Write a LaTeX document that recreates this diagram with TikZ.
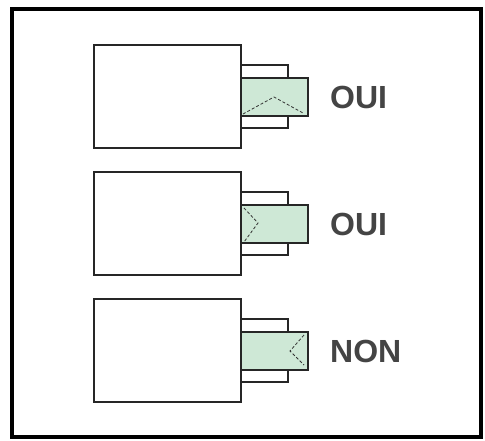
\documentclass[tikz,border=0pt]{standalone}
\usepackage{fontspec}
\setmainfont{Liberation Sans}
\usetikzlibrary{calc}
\definecolor{paleGreen}{RGB}{206,232,214}
\definecolor{txtGray}{RGB}{68,68,68}
\begin{document}
\begin{tikzpicture}[x=1pt,y=-1pt,
  bigbox/.style={draw=black!85,line width=1.5pt,fill=white,minimum width=147pt,minimum height=103pt,inner sep=0pt,outer sep=0pt},
  tabbox/.style={draw=black!85,line width=1.4pt,fill=white,minimum width=47pt,minimum height=63pt,inner sep=0pt,outer sep=0pt},
  greenbox/.style={draw=black!85,line width=1.4pt,fill=paleGreen,minimum width=67pt,minimum height=38pt,inner sep=0pt,outer sep=0pt},
  fold/.style={black!80,dash pattern=on 3pt off 2pt,line width=0.8pt},
  answer/.style={font=\bfseries\fontsize{32}{36}\selectfont,text=txtGray,anchor=west,inner sep=0pt}]
\useasboundingbox (0,0) rectangle (485,440);
\draw[line width=3.2pt] (12,9) rectangle (481,437);
% row 1
\node[tabbox] (t1) at (264.5,96.5) {};
\node[greenbox] (g1) at (274.5,97) {};
\node[bigbox,fill=none] (b1) at (167.5,96.5) {};
\draw[fold] ($(g1.south west)+(2,-2)$) -- ($(g1.north west)+(33,19)$) -- ($(g1.south east)+(-5,-3)$);
\node[answer] (l1) at (330,97) {OUI};
% row 2
\node[tabbox] (t2) at (264.5,223.5) {};
\node[greenbox] (g2) at (274.5,224) {};
\node[bigbox,fill=none] (b2) at (167.5,223.5) {};
\draw[fold] ($(g2.north west)+(3,3)$) -- ($(g2.west)+(17,-1)$) -- ($(g2.south west)+(3,-1)$);
\node[answer] (l2) at (330,224) {OUI};
% row 3
\node[tabbox] (t3) at (264.5,350.5) {};
\node[greenbox] (g3) at (274.5,351) {};
\node[bigbox,fill=none] (b3) at (167.5,350.5) {};
\draw[fold] ($(g3.north east)+(-4,3)$) -- ($(g3.east)+(-18,0)$) -- ($(g3.south east)+(-4,-5)$);
\node[answer] (l3) at (330,351) {NON};
\end{tikzpicture}
\end{document}
